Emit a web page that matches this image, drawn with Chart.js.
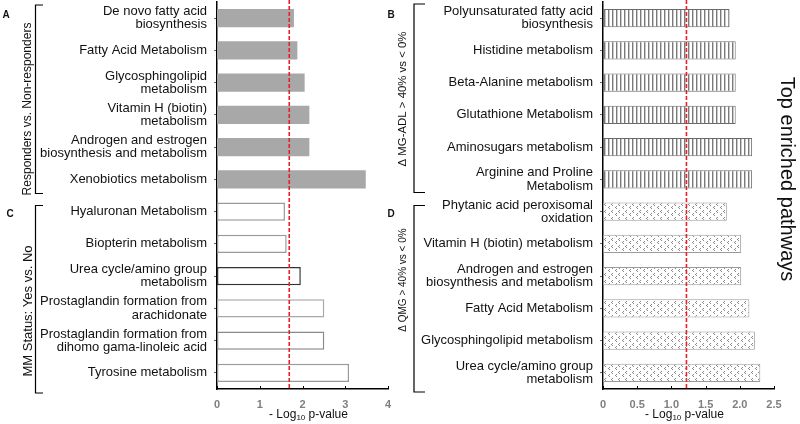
<!DOCTYPE html>
<html><head><meta charset="utf-8">
<script src="https://cdn.jsdelivr.net/npm/chart.js@4"></script>
<style>
html,body{margin:0;padding:0;background:#fff;width:800px;height:424px;overflow:hidden;position:relative}
canvas{position:absolute;top:0}
#c1{left:0}
#c2{left:380px}
</style></head><body>
<canvas id="c1" width="400" height="424"></canvas>
<canvas id="c2" width="420" height="424"></canvas>
<script>
const FONT = "'Liberation Sans', Arial, Helvetica, sans-serif";

// ---- Data ----
const panelALabels = [["De novo fatty acid","biosynthesis"],"Fatty Acid Metabolism",["Glycosphingolipid","metabolism"],["Vitamin H (biotin)","metabolism"],["Androgen and estrogen","biosynthesis and metabolism"],"Xenobiotics metabolism"];
const panelAValues = [1.80, 1.88, 2.05, 2.16, 2.16, 3.48];

const panelCLabels = ["Hyaluronan Metabolism","Biopterin metabolism",["Urea cycle/amino group","metabolism"],["Prostaglandin formation from","arachidonate"],["Prostaglandin formation from","dihomo gama-linoleic acid"],"Tyrosine metabolism"];
const panelCValues = [1.59, 1.63, 1.96, 2.51, 2.51, 3.09];

const panelBLabels = [["Polyunsaturated fatty acid","biosynthesis"],"Histidine metabolism","Beta-Alanine metabolism","Glutathione Metabolism","Aminosugars metabolism",["Arginine and Proline","Metabolism"]];
const panelBValues = [1.85, 1.94, 1.94, 1.94, 2.18, 2.18];

const panelDLabels = [["Phytanic acid peroxisomal","oxidation"],"Vitamin H (biotin) metabolism",["Androgen and estrogen","biosynthesis and metabolism"],"Fatty Acid Metabolism","Glycosphingolipid metabolism",["Urea cycle/amino group","metabolism"]];
const panelDValues = [1.81, 2.02, 2.02, 2.14, 2.22, 2.30];

const leftTicks = [0, 1, 2, 3, 4];
const rightTicks = [0, 0.5, 1, 1.5, 2, 2.5];
const leftThreshold = 1.69;
const rightThreshold = 1.22;

const groupA = "Responders vs. Non-responders";
const groupC = "MM Status: Yes vs. No";
const groupB = "\u0394 MG-ADL > 40% vs < 0%";
const groupD = "\u0394 QMG > 40% vs < 0%";
const sideTitle = "Top enriched pathways";

// ---- Patterns ----
function stripePattern(ctx){
  const c=document.createElement('canvas'); c.width=4; c.height=4;
  const g=c.getContext('2d');
  g.fillStyle='#ffffff'; g.fillRect(0,0,4,4);
  g.fillStyle='#7a7a7a'; g.fillRect(0,0,1,4);
  g.fillStyle='#c8c8c8'; g.fillRect(1,0,1,4);
  return ctx.createPattern(c,'repeat');
}
function dotPattern(ctx){
  const c=document.createElement('canvas'); c.width=7; c.height=7;
  const g=c.getContext('2d');
  g.fillStyle='#ffffff'; g.fillRect(0,0,7,7);
  g.fillStyle='#8a8a8a';
  [[1,0],[0,1],[1,2],[5,3],[4,4],[5,5]].forEach(p=>g.fillRect(p[0],p[1],1,1));
  return ctx.createPattern(c,'repeat');
}

// ---- Decoration plugin ----
const decor = {
  id:'decor',
  afterDatasetsDraw(chart, args, o){
    const {ctx, chartArea:a, scales:{x,y}} = chart;
    ctx.save();
    // x inner ticks
    ctx.strokeStyle='#000'; ctx.lineWidth=1;
    x.ticks.forEach(t=>{const px=Math.round(x.getPixelForValue(t.value))+0.5; ctx.beginPath(); ctx.moveTo(px,a.bottom); ctx.lineTo(px,a.bottom-3); ctx.stroke();});
    // threshold
    const tx = x.getPixelForValue(o.threshold);
    ctx.strokeStyle='#e8202a'; ctx.lineWidth=1.6; ctx.setLineDash([4,2]);
    ctx.beginPath(); ctx.moveTo(tx, a.top-2); ctx.lineTo(tx, a.bottom); ctx.stroke();
    ctx.setLineDash([]);
    // brackets
    ctx.strokeStyle='#000'; ctx.lineWidth=1.2;
    o.brackets.forEach(b=>{
      const y0 = y.getPixelForValue(b.from) + b.dy0, y1 = y.getPixelForValue(b.to) + b.dy1;
      ctx.beginPath(); ctx.moveTo(b.x2, y0); ctx.lineTo(b.x, y0); ctx.lineTo(b.x, y1); ctx.lineTo(b.x2, y1); ctx.stroke();
    });
    // rotated texts
    ctx.fillStyle='#111'; ctx.textAlign='center'; ctx.textBaseline='middle';
    o.texts.forEach(t=>{
      ctx.save(); ctx.translate(t.x, t.y); ctx.rotate(t.rot);
      ctx.font = (t.weight||'normal')+' '+t.size+'px '+FONT;
      ctx.fillText(t.text,0,0); ctx.restore();
    });
    // x axis title with subscript
    const cx = (a.left+a.right)/2 + o.titleDx, cy = 415;
    const p1='- Log', sub='10', p2=' p-value';
    ctx.font='12px '+FONT; const w1=ctx.measureText(p1).width, w3=ctx.measureText(p2).width;
    ctx.font='8px '+FONT; const w2=ctx.measureText(sub).width;
    let sx = cx - (w1+w2+w3)/2;
    ctx.textAlign='left';
    ctx.font='12px '+FONT; ctx.fillText(p1, sx, cy); sx+=w1;
    ctx.font='8px '+FONT; ctx.fillText(sub, sx, cy+3); sx+=w2;
    ctx.font='12px '+FONT; ctx.fillText(p2, sx, cy);
    ctx.restore();
  }
};

function makeChart(canvas, labels, values, bg, bc, bw, ticksArr, maxV, yWidth, padRight, decorOpts){
  return new Chart(canvas, {
    type:'bar',
    data:{ labels: labels, datasets:[{ data: values, backgroundColor: bg, borderColor: bc, borderWidth: bw, borderSkipped:false, categoryPercentage:1, barPercentage:0.57 }]},
    options:{
      indexAxis:'y', responsive:false, animation:false, devicePixelRatio:1,
      layout:{padding:{left:0, right:padRight, top:2, bottom:0}},
      plugins:{legend:{display:false}, tooltip:{enabled:false}, decor: decorOpts},
      scales:{
        y:{
          offset:true,
          grid:{display:true, drawOnChartArea:false, drawTicks:true, tickLength:3, offset:false, color:'#666'},
          border:{display:true, color:'#000', width:1.5},
          ticks:{font:{family:FONT, size:13, lineHeight:1.02}, color:'#111', padding:7, autoSkip:false},
          afterFit(s){ s.width = yWidth; s.paddingTop=0; s.paddingBottom=0; }
        },
        x:{
          min:0, max:maxV,
          grid:{display:false, drawTicks:false},
          border:{display:true, color:'#000', width:1.5},
          ticks:{font:{family:FONT, size:11, weight:'bold'}, color:'#7f7f7f', padding:9},
          afterBuildTicks(s){ s.ticks = ticksArr.map(v=>({value:v})); },
          afterFit(s){ s.height = 35; s.paddingLeft=0; s.paddingRight=0; }
        }
      }
    },
    plugins:[decor]
  });
}

const ctx1 = document.getElementById('c1').getContext('2d');
const ctx2 = document.getElementById('c2').getContext('2d');
const stripes = stripePattern(ctx2), dots = dotPattern(ctx2);

makeChart(document.getElementById('c1'),
  panelALabels.concat(panelCLabels), panelAValues.concat(panelCValues),
  panelAValues.map(()=> '#a8a8a8').concat(panelCValues.map(()=> '#ffffff')),
  panelAValues.map(()=> '#a8a8a8').concat(['#9a9a9a','#9a9a9a','#333333','#a8a8a8','#8a8a8a','#9a9a9a']),
  panelAValues.map(()=> 0).concat(panelCValues.map(()=> 1.5)),
  leftTicks, 4, 217, 12,
  { threshold:leftThreshold, titleDx:6,
    brackets:[{x:35.5,x2:43,from:-0.5,to:5.5,dy0:3,dy1:-2},{x:35.5,x2:43,from:5.5,to:11.5,dy0:10,dy1:4}],
    texts:[
      {text:'A',x:6,y:15,rot:0,size:10,weight:'bold'},
      {text:'C',x:10,y:214,rot:0,size:10,weight:'bold'},
      {text:'B',x:391,y:15,rot:0,size:10,weight:'bold'},
      {text:'D',x:391,y:214,rot:0,size:10,weight:'bold'},
      {text:groupA,x:28,y:109,rot:-Math.PI/2,size:12},
      {text:groupC,x:28.5,y:311,rot:-Math.PI/2,size:13}
    ]});

makeChart(document.getElementById('c2'),
  panelBLabels.concat(panelDLabels), panelBValues.concat(panelDValues),
  panelBValues.map(()=> stripes).concat(panelDValues.map(()=> dots)),
  panelBValues.map(()=> '#6a6a6a').concat(panelDValues.map(()=> '#9a9a9a')),
  panelBValues.map(()=> 1).concat(panelDValues.map(()=> 1)),
  rightTicks, 2.5, 223, 26,
  { threshold:rightThreshold, titleDx:-4,
    brackets:[{x:34,x2:45,from:-0.5,to:5.5,dy0:2,dy1:-3},{x:34,x2:45,from:5.5,to:11.5,dy0:10,dy1:3}],
    texts:[
      {text:groupB,x:23,y:99,rot:-Math.PI/2,size:11.4},
      {text:groupD,x:23,y:280,rot:-Math.PI/2,size:10},
      {text:sideTitle,x:407,y:179,rot:Math.PI/2,size:20}
    ]});
</script>
</body></html>
